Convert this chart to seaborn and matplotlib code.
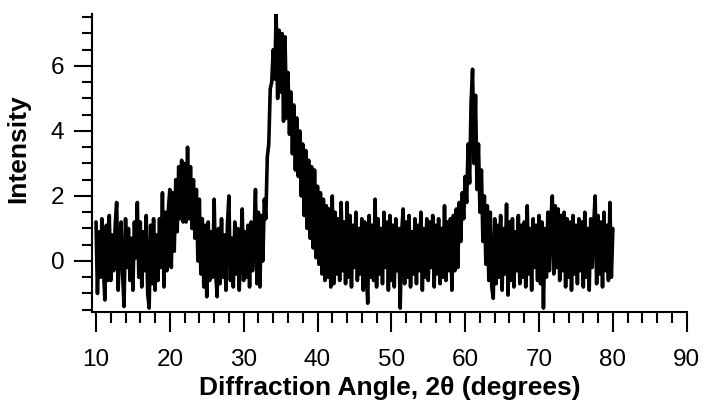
import numpy as np
import pandas as pd
import matplotlib
matplotlib.use("Agg")
import matplotlib.pyplot as plt
from matplotlib.ticker import MultipleLocator, FixedLocator
import seaborn as sns

# ---- data (2-theta grid 10..80 deg, step 0.2) ----
angle_start = 10.0
angle_end = 80.0

intensity_10_30 = [
    1.2, -1.0, 0.9, -0.5, 1.3, -0.2, -1.2, 1.1, -0.6, 1.4,
    -0.6, 0.8, -0.3, 1.1, 1.8, -0.9, 0.5, 1.2, -0.4, -1.4,
    1.3, -0.2, 1.0, -0.6, 0.7, -0.9, 1.2, 0.1, 1.8, -0.5,
    1.2, -0.8, 0.9, -0.3, 1.4, -1.0, -1.45, 1.1, -0.7, 1.3,
    -0.9, 0.8, -0.6, 1.3, -0.2, 2.1, -0.8, 1.5, -0.3, 1.6,
    2.2, -0.2, 2.1, 0.3, 2.5, 0.9, 2.9, 1.3, 3.1, 1.2,
    3.0, 1.2, 3.5, 1.3, 2.9, 1.0, 2.5, 0.7, 2.2, 0.0,
    1.9, -0.4, 1.3, -0.8, 1.1, -1.1, 1.2, -0.6, 0.9, -0.5,
    1.9, -0.3, -1.1, 1.0, -0.7, 1.3, -0.5, 0.8, -0.9, 1.1,
    2.0, -0.6, 0.7, -0.8, 1.2, -0.4, 1.0, -0.9, 0.3, 1.6,
]
intensity_30_50 = [
    -0.6, 0.9, -0.5, 1.1, -0.8, 1.2, -0.3, 0.8, 2.2, -0.7,
    1.5, -0.8, 1.4, 0.0, 1.9, 1.3, 3.2, 3.6, 5.3, 5.5,
    6.5, 5.6, 7.6, 5.0, 7.1, 5.2, 7.0, 4.3, 6.9, 4.4,
    5.8, 3.9, 5.2, 3.3, 4.8, 2.8, 4.4, 2.6, 4.0, 2.0,
    3.6, 1.4, 3.4, 1.0, 3.1, 0.7, 2.9, 0.4, 2.8, 0.1,
    2.3, -0.1, 2.1, -0.4, 1.9, -0.6, 1.7, -0.5, 1.6, -0.8,
    2.0, -0.7, 1.5, -0.4, 1.3, -0.6, 1.8, -0.3, 1.2, -0.7,
    1.8, -0.5, 1.4, -0.8, 1.1, -0.2, 1.5, -0.6, 1.0, -0.4,
    1.3, -0.9, 1.2, -0.3, -1.3, 1.4, -0.5, 1.1, -0.6, 1.9,
    -0.8, 1.3, -0.4, 1.0, -0.7, 1.5, -0.2, 1.2, -0.9, 1.4,
]
intensity_50_80 = [
    -0.6, 1.1, -0.8, 1.3, -0.3, 1.0, -1.45, 0.9, 1.6, -0.7,
    1.2, -0.5, 1.4, -0.8, 0.9, -0.4, 1.3, -0.7, 1.1, -0.3,
    1.5, -0.9, 1.0, -0.5, 1.3, -0.6, 1.2, -0.2, 1.4, -0.8,
    1.1, -0.4, 1.3, -0.7, 1.0, -0.5, 1.7, -0.6, 1.2, -0.3,
    1.3, -0.9, 1.4, -0.3, 1.6, -0.2, 1.8, 0.6, 2.1, 1.3,
    2.6, 1.8, 3.6, 2.4, 4.9, 5.9, 3.0, 5.1, 2.2, 3.6,
    1.5, 2.8, 0.6, 2.0, -0.1, 1.7, -0.6, 1.5, -0.8, -1.15,
    1.3, -0.7, 1.1, -0.5, 1.4, -0.9, 1.0, -0.4, 1.75, -1.05,
    1.2, -0.6, 1.3, -0.8, 0.9, -0.3, 1.4, -0.7, 1.1, -0.5,
    1.2, -0.8, 1.7, -0.4, 1.0, -0.9, 1.3, -0.2, 1.1, -0.6,
    1.4, -0.7, 1.2, -1.45, 1.0, -0.5, 1.5, -0.3, 1.3, 2.0,
    -0.4, 1.7, -0.2, 1.6, -0.6, 1.4, -0.3, 1.5, -0.8, 1.3,
    -0.5, 1.2, -0.9, 1.4, -0.4, 1.1, -0.7, 1.3, -0.3, 1.2,
    -0.8, 1.5, -0.5, 1.0, -0.9, 1.3, -0.2, 1.1, 2.0, -0.7,
    1.4, -0.4, 1.2, -0.8, 1.5, -0.3, 1.1, -0.6, 1.8, -0.5,
    1.0,
]

x_major_ticks = [10, 20, 30, 40, 50, 60, 70, 80, 90]
y_major_ticks = [0, 2, 4, 6]
x_label = "Diffraction Angle, 2\u03b8 (degrees)"
y_label = "Intensity"

intensity = intensity_10_30 + intensity_30_50 + intensity_50_80
angle = np.linspace(angle_start, angle_end, len(intensity))
df = pd.DataFrame({"angle": angle, "intensity": intensity})

# ---- style ----
sns.set_style("ticks")
plt.rcParams["font.family"] = ["Liberation Sans", "DejaVu Sans"]

W, H = 704, 404
fig = plt.figure(figsize=(W / 100, H / 100), dpi=100)
left, right, top, bottom = 92, 686.7, 14, 312
ax = fig.add_axes([left / W, (H - bottom) / H, (right - left) / W, (bottom - top) / H])

sns.lineplot(data=df, x="angle", y="intensity", color="black", linewidth=2.6,
             sort=False, estimator=None, ax=ax)

ax.set_xlim(9.46, 90)
ax.set_ylim(-1.57, 7.6)
ax.xaxis.set_major_locator(FixedLocator(x_major_ticks))
ax.xaxis.set_minor_locator(MultipleLocator(2))
ax.yaxis.set_major_locator(FixedLocator(y_major_ticks))
ax.yaxis.set_minor_locator(MultipleLocator(0.5))

sns.despine(ax=ax)
for s in ("left", "bottom"):
    ax.spines[s].set_linewidth(1.5)
    ax.spines[s].set_color("black")

ax.tick_params(axis="x", which="major", direction="out", length=14.5, width=1.5,
               color="black", labelsize=17.5, pad=12, labelcolor="black")
ax.tick_params(axis="x", which="minor", direction="out", length=8, width=1.5, color="black")
ax.tick_params(axis="y", which="major", direction="out", length=13, width=1.5,
               color="black", labelsize=17.5, pad=7, labelcolor="black")
ax.tick_params(axis="y", which="minor", direction="out", length=7, width=1.5, color="black")

ax.set_xlabel(x_label, fontsize=19, fontweight="bold", color="black", labelpad=4)
ax.set_ylabel(y_label, fontsize=19, fontweight="bold", color="black")
ax.yaxis.set_label_coords(-0.104, 0.547)

fig.savefig("out.png", dpi=100)
